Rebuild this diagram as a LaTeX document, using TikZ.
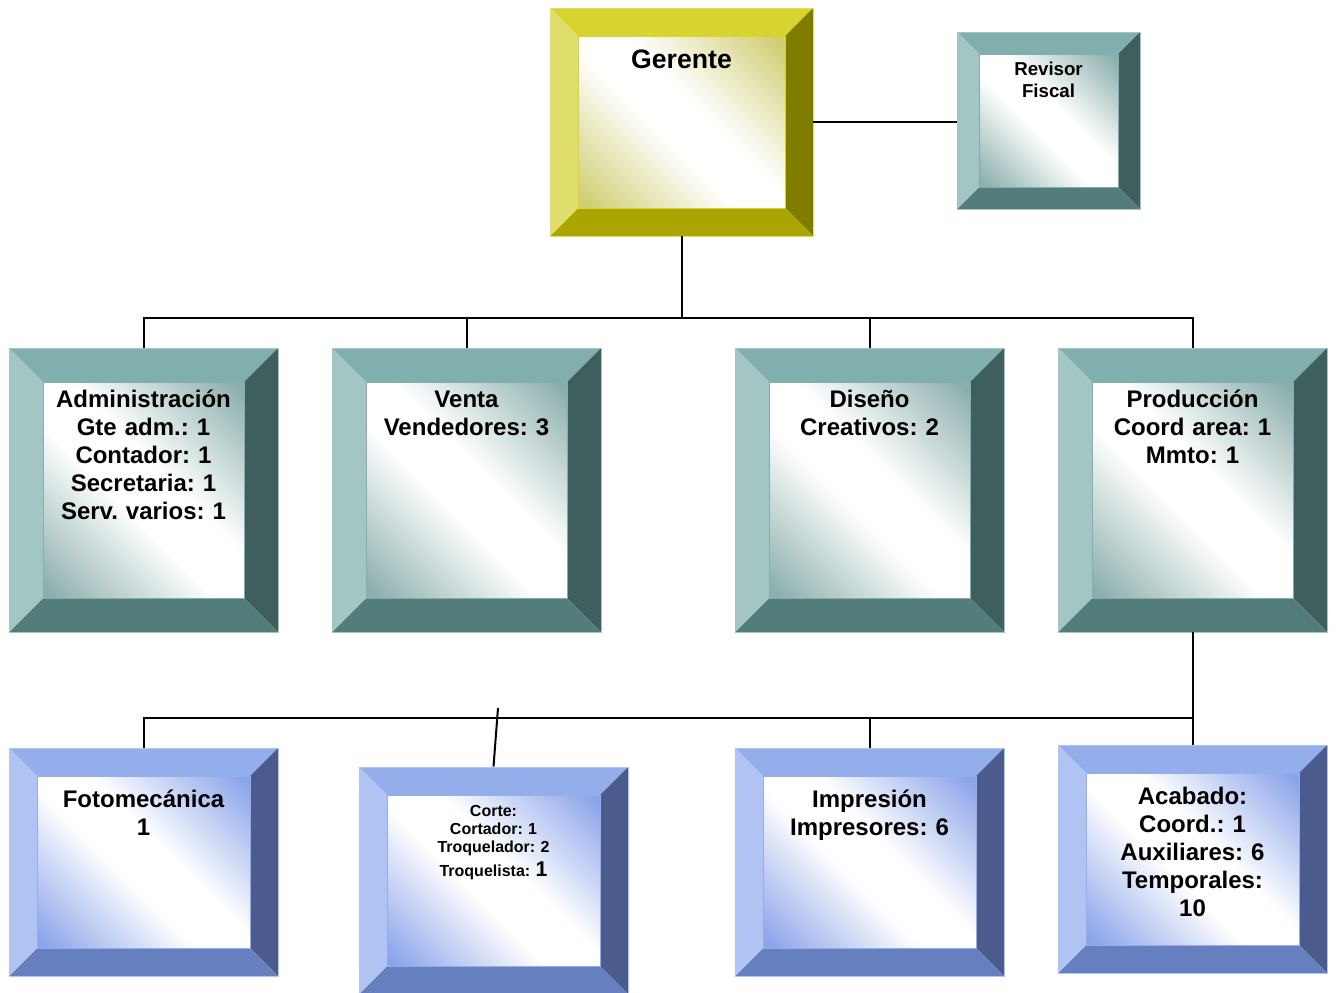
\documentclass[tikz,border=0pt]{standalone}
\usepackage{fontspec}
\setmainfont{Liberation Sans}
\usetikzlibrary{positioning}
\definecolor{oliveTop}{HTML}{D7D430}
\definecolor{oliveLeft}{HTML}{E0DE6A}
\definecolor{oliveRight}{HTML}{7F7D00}
\definecolor{oliveBot}{HTML}{AAA500}
\definecolor{oliveTint}{HTML}{CFCD70}
\definecolor{tealTop}{HTML}{80AFAD}
\definecolor{tealLeft}{HTML}{A3C5C3}
\definecolor{tealRight}{HTML}{3F5F5E}
\definecolor{tealBot}{HTML}{527D7B}
\definecolor{tealTint}{HTML}{8AAEAC}
\definecolor{blueTop}{HTML}{94AEEC}
\definecolor{blueLeft}{HTML}{B0C3F2}
\definecolor{blueRight}{HTML}{4B5B8D}
\definecolor{blueBot}{HTML}{6680BF}
\definecolor{blueTint}{HTML}{8AA3EA}
\colorlet{bvtint}{blueTint}
\pgfdeclarehorizontalshading[bvtint]{bvshade}{100bp}{color(0bp)=(bvtint); color(16bp)=(bvtint);
    color(44bp)=(white); color(56bp)=(white); color(84bp)=(bvtint); color(100bp)=(bvtint)}
\tikzset{
    palette/.code={\colorlet{bvtop}{#1Top}\colorlet{bvleft}{#1Left}\colorlet{bvright}{#1Right}\colorlet{bvbot}{#1Bot}\colorlet{bvtint}{#1Tint}},
    olivepal/.style={palette=olive},
    tealpal/.style={palette=teal},
    bluepal/.style={palette=blue},
    bevel/.code={\pgfmathsetlengthmacro\bvw{#1*0.75pt}},
    dims/.style 2 args={minimum width=#1*0.75pt,minimum height=#2*0.75pt},
    bevelbox/.style={draw=bvleft,line width=0.6pt,inner sep=0pt,
        path picture={
            \path (path picture bounding box.north west) coordinate (o1)
                  (path picture bounding box.north east) coordinate (o2)
                  (path picture bounding box.south east) coordinate (o3)
                  (path picture bounding box.south west) coordinate (o4);
            \path ([xshift=\bvw,yshift=-\bvw]o1) coordinate (i1)
                  ([xshift=-\bvw,yshift=-\bvw]o2) coordinate (i2)
                  ([xshift=-\bvw,yshift=\bvw]o3) coordinate (i3)
                  ([xshift=\bvw,yshift=\bvw]o4) coordinate (i4);
            \fill[bvtop] (o1) -- (o2) -- (i2) -- (i1) -- cycle;
            \fill[bvright] (o2) -- (o3) -- (i3) -- (i2) -- cycle;
            \fill[bvbot] (o3) -- (o4) -- (i4) -- (i3) -- cycle;
            \fill[bvleft] (o4) -- (o1) -- (i1) -- (i4) -- cycle;
            \shade[shading=bvshade,shading angle=45] (i4) rectangle (i2);
            \draw[bvtop,line width=0.6pt] (i4) rectangle (i2);
        }},
    boxtext/.style={anchor=base,align=center,inner sep=0pt,text width=150pt,
        font=\frenchspacing\bfseries\fontsize{18}{21}\selectfont},
    link/.style={line width=1.5pt}
}

\begin{document}
\begin{tikzpicture}[x=0.75pt,y=-0.75pt]
\useasboundingbox (0,0) rectangle (1337,992);
\clip (0,0) rectangle (1337,992);

% conectores
\coordinate (bus1) at (681.5,318);
\coordinate (bus2) at (1192.5,718);
\coordinate (cortetop) at (498,708);

% cajas
\node[olivepal,bevelbox,bevel=28,dims={263}{228}] (gerente) at (681.5,122) {};
\node[tealpal,bevelbox,bevel=22,dims={183}{177}] (revisor) at (1048.5,120.5) {};

\node[tealpal,bevelbox,bevel=34,dims={269}{284}] (admin) at (143.5,490) {};
\node[tealpal,bevelbox,bevel=34,dims={269}{284}] (venta) at (466.5,490) {};
\node[tealpal,bevelbox,bevel=34,dims={269}{284}] (diseno) at (869.5,490) {};
\node[tealpal,bevelbox,bevel=34,dims={269}{284}] (prod) at (1192.5,490) {};

\node[bluepal,bevelbox,bevel=28,dims={269}{228}] (foto) at (143.5,862) {};
\node[bluepal,bevelbox,bevel=28,dims={269}{227}] (corte) at (493.5,880.5) {};
\node[bluepal,bevelbox,bevel=28,dims={269}{228}] (impresion) at (869.5,862) {};
\node[bluepal,bevelbox,bevel=28,dims={269}{228}] (acabado) at (1192.5,859) {};

% textos
\node[boxtext,font=\bfseries\fontsize{20}{24}\selectfont] (gerente-txt) at ([yshift=-45.5pt]gerente.north) {Gerente};
\node[boxtext,text width=100pt,font=\bfseries\fontsize{14}{16.5}\selectfont] (revisor-txt) at ([yshift=-33pt]revisor.north) {Revisor\\Fiscal};

\node[boxtext] (admin-txt) at ([yshift=-45pt]admin.north) {Administración\\Gte adm.: 1\\Contador: 1\\Secretaria: 1\\Serv. varios: 1};
\node[boxtext] (venta-txt) at ([yshift=-45pt]venta.north) {Venta\\Vendedores: 3};
\node[boxtext] (diseno-txt) at ([yshift=-45pt]diseno.north) {Diseño\\Creativos: 2};
\node[boxtext] (prod-txt) at ([yshift=-45pt]prod.north) {Producción\\Coord area: 1\\Mmto: 1};

\node[boxtext] (foto-txt) at ([yshift=-45pt]foto.north) {Fotomecánica\\1};
\node[boxtext,font=\frenchspacing\bfseries\fontsize{12}{13.5}\selectfont] (corte-txt) at ([yshift=-37.5pt]corte.north)
    {Corte:\\Cortador: 1\\Troquelador: 2\\[4.5pt]Troquelista: {\fontsize{16}{18}\selectfont 1}};
\node[boxtext] (impresion-txt) at ([yshift=-45pt]impresion.north) {Impresión\\Impresores: 6};
\node[boxtext,text width=160pt] (acabado-txt) at ([yshift=-45pt]acabado.north) {Acabado:\\Coord.: 1\\Auxiliares: 6\\Temporales:\\10};

% lineas
\draw[link] (gerente.east) -- (gerente.east -| revisor.west);
\draw[link] (gerente.south) -- (bus1);
\draw[link] (admin.north) |- (bus1) -| (prod.north);
\draw[link] (venta.north) -- (venta.north |- bus1);
\draw[link] (diseno.north) -- (diseno.north |- bus1);

\draw[link] (prod.south) -- (bus2);
\draw[link] (foto.north) |- (bus2);
\draw[link] (impresion.north) -- (impresion.north |- bus2);
\draw[link] (acabado.north) -- (bus2);
\draw[link] (corte.north) -- (cortetop);

\end{tikzpicture}
\end{document}
